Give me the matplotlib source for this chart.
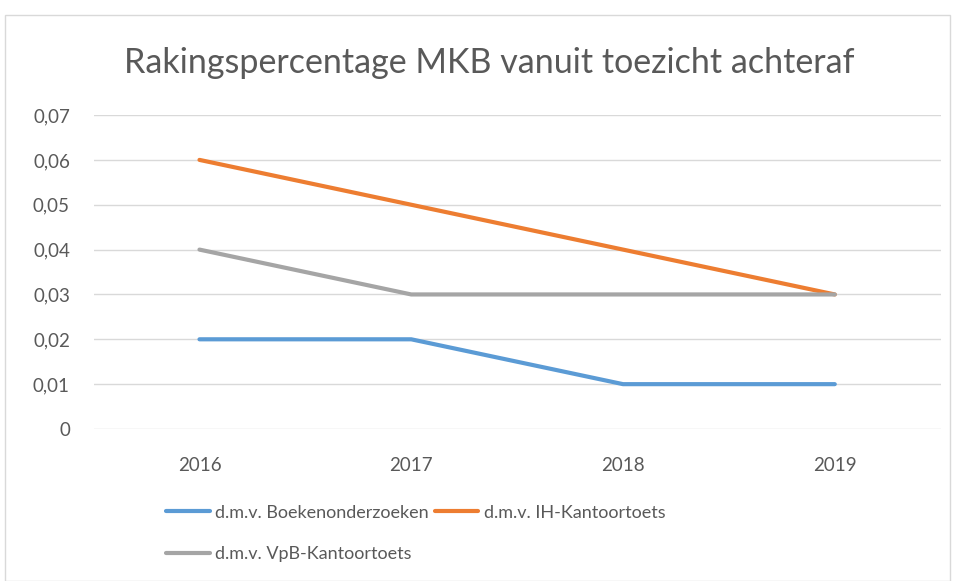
import matplotlib.pyplot as plt
from matplotlib.patches import Rectangle
from matplotlib.ticker import FuncFormatter

plt.rcParams['font.family'] = ['Lato', 'DejaVu Sans']

# ---------------- DATA ----------------
years = ["2016", "2017", "2018", "2019"]
boeken = [0.02, 0.02, 0.01, 0.01]
ih_kantoor = [0.06, 0.05, 0.04, 0.03]
vpb_kantoor = [0.04, 0.03, 0.03, 0.03]

labels = ["d.m.v. Boekenonderzoeken", "d.m.v. IH-Kantoortoets", "d.m.v. VpB-Kantoortoets"]
colors = ["#5B9BD5", "#ED7D31", "#A5A5A5"]
text_color = "#595959"

# ---------------- PLOT ----------------
fig = plt.figure(figsize=(9.55, 5.81), dpi=100)
ax = fig.add_axes([0.098, 0.2616, 0.887, 0.5404])

# chart border
fig.patches.append(Rectangle((0.005, 0.0), 0.99, 0.974, transform=fig.transFigure,
                             fill=False, edgecolor="#D9D9D9", linewidth=1.0))

x = list(range(len(years)))
lines = []
for vals, lab, col in zip([boeken, ih_kantoor, vpb_kantoor], labels, colors):
    ln, = ax.plot(x, vals, color=col, linewidth=3.0, label=lab, solid_capstyle="round")
    lines.append(ln)

ax.set_xlim(-0.5, len(years) - 0.5)
ax.set_ylim(0, 0.07)
ax.set_yticks([i / 100 for i in range(8)])
ax.yaxis.set_major_formatter(FuncFormatter(lambda v, p: "0" if v == 0 else f"{v:.2f}".replace(".", ",")))
ax.set_xticks(x)
ax.set_xticklabels(years)
ax.tick_params(axis="both", length=0, labelsize=13.5, colors=text_color)
ax.tick_params(axis="y", pad=17)
ax.tick_params(axis="x", pad=20)
ax.grid(axis="y", color="#D9D9D9", linewidth=1.0)
ax.set_axisbelow(True)
for s in ax.spines.values():
    s.set_visible(False)

fig.text(0.512, 0.892, "Rakingspercentage MKB vanuit toezicht achteraf",
         ha="center", va="center", fontsize=24.5, color=text_color)

# row-wise legend order for column-major fill
order = [0, 2, 1]
fig.legend([lines[i] for i in order], [labels[i] for i in order],
           ncol=2, loc="center left", bbox_to_anchor=(0.157, 0.082),
           frameon=False, fontsize=13, labelcolor=text_color,
           handlelength=2.4, handletextpad=0.3, columnspacing=0.35,
           labelspacing=1.4)

fig.savefig("out.png", dpi=100)
